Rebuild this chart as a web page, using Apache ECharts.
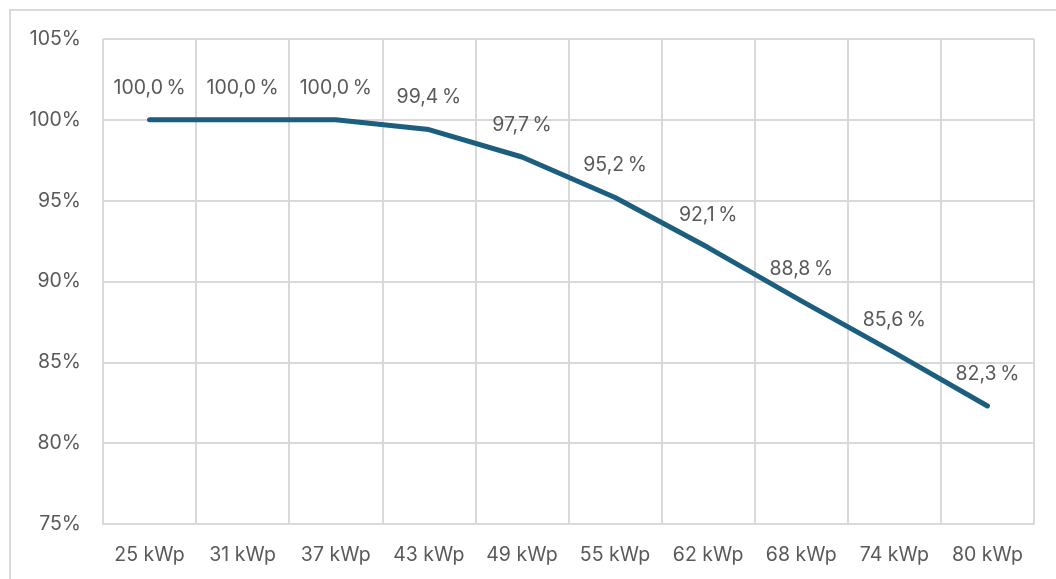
<!DOCTYPE html>
<html>
<head>
<meta charset="utf-8">
<style>
  html, body { margin: 0; padding: 0; background: #ffffff; }
  #chart { width: 1056px; height: 579px; }
</style>
<script src="https://cdn.jsdelivr.net/npm/echarts@6/dist/echarts.min.js"></script>
</head>
<body>
<div id="chart"></div>
<script>
// Relative yield per installed system size
const categories = ['25 kWp', '31 kWp', '37 kWp', '43 kWp', '49 kWp', '55 kWp', '62 kWp', '68 kWp', '74 kWp', '80 kWp'];
const yieldPercent = [100.0, 100.0, 100.0, 99.4, 97.7, 95.2, 92.1, 88.8, 85.6, 82.3];
const yTicks = { min: 75, max: 105, step: 5 };

const textColor = '#595959';
const gridColor = '#d9d9d9';
const lineColor = '#1b5e7f';
const fontFamily = 'Inter, "Liberation Sans", sans-serif';
const fontSize = 19.5;

const chart = echarts.init(document.getElementById('chart'), null, { renderer: 'canvas' });

chart.setOption({
  animation: false,
  backgroundColor: '#ffffff',
  graphic: [{
    type: 'rect',
    shape: { x: 10, y: 10, width: 1200, height: 800 },
    style: { fill: 'none', stroke: gridColor, lineWidth: 2 },
    silent: true
  }],
  grid: { left: 103, right: 22, top: 39, bottom: 55 },
  xAxis: {
    type: 'category',
    data: categories,
    boundaryGap: true,
    axisLine: { show: true, lineStyle: { color: gridColor, width: 2 } },
    axisTick: { show: false, interval: 0 },
    splitLine: { show: true, interval: 0, lineStyle: { color: gridColor, width: 2 } },
    axisLabel: {
      interval: 0, hideOverlap: false,
      color: textColor, fontSize: fontSize, fontFamily: fontFamily, margin: 21
    }
  },
  yAxis: {
    type: 'value',
    min: yTicks.min,
    max: yTicks.max,
    interval: yTicks.step,
    axisLine: { show: false },
    axisTick: { show: false },
    splitLine: { show: true, lineStyle: { color: gridColor, width: 2 } },
    axisLabel: {
      color: textColor, fontSize: fontSize, fontFamily: fontFamily, margin: 22,
      formatter: '{value}%'
    }
  },
  series: [{
    type: 'line',
    data: yieldPercent,
    symbol: 'circle',
    symbolSize: 2,
    showSymbol: true,
    itemStyle: { color: lineColor },
    lineStyle: { color: lineColor, width: 5, cap: 'round', join: 'round' },
    label: {
      show: true,
      position: 'top',
      distance: 21,
      color: textColor,
      fontSize: fontSize,
      fontFamily: fontFamily,
      formatter: (p) => p.value.toFixed(1).replace('.', ',') + '\u2009%'
    }
  }]
});
</script>
</body>
</html>
